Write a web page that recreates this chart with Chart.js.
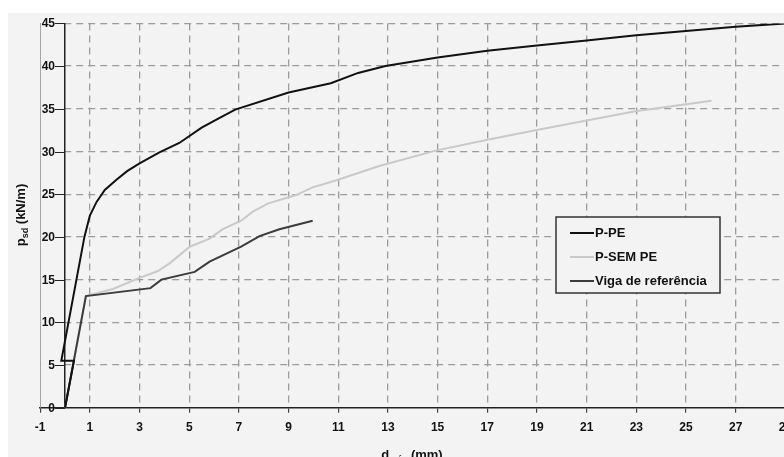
<!DOCTYPE html>
<html><head><meta charset="utf-8">
<script src="https://cdn.jsdelivr.net/npm/chart.js@4.4.0/dist/chart.umd.min.js"></script>
<style>
html,body{margin:0;padding:0;background:#fff;overflow:hidden;width:784px;height:457px;}
#bg{position:absolute;left:8px;top:13px;width:800px;height:470px;background:#f3f3f3;}
#wrap{position:absolute;left:0;top:0;width:800px;height:470px;}
</style></head><body>
<div id="bg"></div>
<div id="wrap"><canvas id="c" width="800" height="470"></canvas></div>
<script>
// ---- data ----
const xTickValues = [-1,1,3,5,7,9,11,13,15,17,19,21,23,25,27,29];
const yTickValues = [0,5,10,15,20,25,30,35,40,45];
const seriesNames = ['P-PE','P-SEM PE','Viga de referência'];

const pPE_x = [0,0.36,-0.15,0.78,1.0,1.27,1.6,2.07,2.5,3.0,3.8,4.6,5.5,6.0,6.85,9.0,10.7,11.8,12.9,15,17,19,21,23,25,27,29];
const pPE_y = [0,5.5,5.5,20,22.5,24.1,25.5,26.7,27.7,28.6,29.9,31.0,32.8,33.6,34.9,36.9,38.0,39.2,40.0,41.0,41.8,42.4,43.0,43.6,44.1,44.6,45.0];

const pSEM_x = [0,0.84,1.93,3.0,3.74,4.21,5.02,5.82,6.35,7.09,7.56,8.16,9.3,9.97,10.9,12.65,14.92,17.06,18.94,20.95,22.96,26.03];
const pSEM_y = [0,13.07,13.9,15.2,16.0,16.9,18.85,19.8,20.9,21.9,22.95,23.9,24.9,25.8,26.6,28.3,30.1,31.4,32.5,33.6,34.7,35.95];

const viga_x = [0,0.84,3.44,3.88,5.22,5.82,7.09,7.83,8.63,9.97];
const viga_y = [0,13.07,14.0,15.0,15.9,17.1,18.85,20.1,20.9,21.9];

const colors = ['#111111','#c9c9c9','#3c3c3c'];

const pts = (xs, ys) => xs.map((x,i)=>({x, y: ys[i]}));
const FONT = 'Liberation Sans, Arial, sans-serif';

function drawSub(ctx, x, y, parts, align){
  const big = 'bold 13px ' + FONT, small = 'bold 9px ' + FONT;
  let w = 0;
  parts.forEach(p => { ctx.font = p[1] ? small : big; w += ctx.measureText(p[0]).width; });
  let cx = align === 'center' ? x - w/2 : x;
  parts.forEach(p => {
    ctx.font = p[1] ? small : big;
    ctx.fillText(p[0], cx, p[1] ? y + 3 : y);
    cx += ctx.measureText(p[0]).width;
  });
}

const decor = {
  id: 'decor',
  beforeDatasetsDraw(chart){
    const {ctx, chartArea: a} = chart;
    const ys = chart.scales.y, xs = chart.scales.x;
    const axisX = Math.round(xs.getPixelForValue(0));
    ctx.save();
    ctx.fillStyle = '#f3f3f3';
    ctx.fillRect(a.left + 1, a.top - 1, axisX - a.left - 2, a.bottom - a.top);
    ctx.strokeStyle = '#a5a5a5'; ctx.lineWidth = 1;
    ctx.beginPath(); ctx.moveTo(Math.round(a.left)+0.5, a.top); ctx.lineTo(Math.round(a.left)+0.5, a.bottom); ctx.stroke();
    ctx.strokeStyle = '#222'; ctx.lineWidth = 1;
    ctx.fillStyle = '#111';
    ctx.font = 'bold 12px ' + FONT;
    ctx.textAlign = 'right'; ctx.textBaseline = 'middle';
    yTickValues.forEach(v => {
      const py = Math.round(ys.getPixelForValue(v)) + 0.5;
      ctx.beginPath(); ctx.moveTo(axisX - 10, py); ctx.lineTo(axisX, py); ctx.stroke();
      ctx.fillText(String(v), axisX - 10, py + 0.5);
    });
    ctx.restore();
  },
  afterDraw(chart){
    const ctx = chart.ctx;
    ctx.save();
    ctx.fillStyle = '#111';
    ctx.textBaseline = 'alphabetic';
    drawSub(ctx, 412, 459, [['d',false],['máx',true],[' (mm)',false]], 'center');
    ctx.save();
    ctx.translate(25, 215);
    ctx.rotate(-Math.PI/2);
    drawSub(ctx, 0, 0, [['p',false],['sd',true],[' (kN/m)',false]], 'center');
    ctx.restore();
    const bx = 556, by = 217, bw = 164, bh = 76;
    ctx.fillStyle = '#f3f3f3';
    ctx.fillRect(bx, by, bw, bh);
    ctx.strokeStyle = '#333'; ctx.lineWidth = 1.5;
    ctx.strokeRect(bx, by, bw, bh);
    const rows = [233, 257, 281];
    chart.data.datasets.forEach((ds, i) => {
      ctx.strokeStyle = ds.borderColor; ctx.lineWidth = 2;
      ctx.beginPath(); ctx.moveTo(570, rows[i]); ctx.lineTo(594, rows[i]); ctx.stroke();
      ctx.fillStyle = '#111';
      ctx.font = 'bold 13px ' + FONT;
      ctx.textBaseline = 'middle';
      ctx.fillText(ds.label, 595, rows[i] + 0.5);
    });
    ctx.restore();
  }
};

new Chart(document.getElementById('c'), {
  type: 'line',
  data: {
    datasets: [
      {label: seriesNames[0], data: pts(pPE_x, pPE_y), borderColor: colors[0], borderWidth: 2, order: 0},
      {label: seriesNames[1], data: pts(pSEM_x, pSEM_y), borderColor: colors[1], borderWidth: 2, order: 2},
      {label: seriesNames[2], data: pts(viga_x, viga_y), borderColor: colors[2], borderWidth: 2, order: 1}
    ]
  },
  options: {
    responsive: false,
    animation: false,
    devicePixelRatio: 1,
    elements: {point: {radius: 0}, line: {tension: 0, fill: false}},
    layout: {padding: {left: 40.2, top: 23.4, right: 12.8, bottom: 32.3}},
    plugins: {legend: {display: false}, tooltip: {enabled: false}},
    scales: {
      x: {
        type: 'linear', min: -1, max: 29, position: 'bottom',
        afterBuildTicks: s => { s.ticks = xTickValues.map(v => ({value: v})); },
        afterFit: s => { s.height = 30; },
        ticks: {font: {family: FONT, weight: 'bold', size: 12}, color: '#111', padding: 8, maxRotation: 0, autoSkip: false},
        grid: {color: c => (c.tick && c.tick.value === -1) ? 'rgba(0,0,0,0)' : '#9c9c9c', lineWidth: 1.3, tickLength: 5, tickColor: '#222', tickWidth: 1},
        border: {display: true, color: '#222', width: 1.5, dash: [7, 5]}
      },
      y: {
        type: 'linear', min: 0, max: 45, position: {x: 0},
        afterBuildTicks: s => { s.ticks = yTickValues.map(v => ({value: v})); },
        ticks: {display: false},
        grid: {color: c => (c.tick && c.tick.value === 0) ? 'rgba(0,0,0,0)' : '#9c9c9c', lineWidth: 1.3, drawTicks: false},
        border: {display: true, color: '#222', width: 1.5, dash: [7, 5]}
      }
    }
  },
  plugins: [decor]
});
</script>
</body></html>
